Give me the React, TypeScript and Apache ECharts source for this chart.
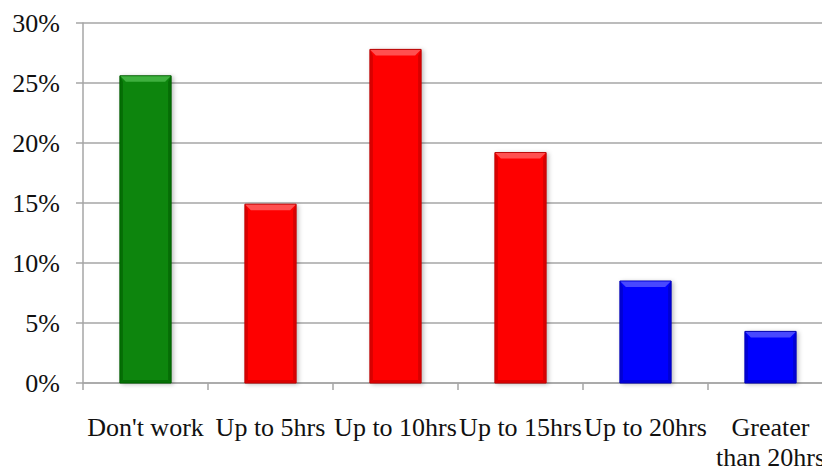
import React, { useEffect, useRef } from "react";
import * as echarts from "echarts";

// Share of respondents by weekly hours worked
const categories = [
  "Don't work",
  "Up to 5hrs",
  "Up to 10hrs",
  "Up to 15hrs",
  "Up to 20hrs",
  "Greater\nthan 20hrs",
];
const shares = [25.6, 14.9, 27.8, 19.2, 8.5, 4.3];
const yTicks = [0, 5, 10, 15, 20, 25, 30];

// Fill / edge / highlight colours for each bar
const barColors = ["#078507", "#fe0000", "#fe0000", "#fe0000", "#0000fe", "#0000fe"];
const edgeColors = ["#005a00", "#b80000", "#b80000", "#b80000", "#0000b0", "#0000b0"];
const lightColors = ["#3fb03f", "#ff5050", "#ff5050", "#ff5050", "#4848ff", "#4848ff"];

const FONT = "'Times New Roman', 'Liberation Serif', serif";

export default function App() {
  const ref = useRef<HTMLDivElement>(null);

  useEffect(() => {
    if (!ref.current) return;
    const chart = echarts.init(ref.current, null, { renderer: "svg" });

    const renderBar = (params: any, api: any) => {
      const idx = api.value(0);
      const val = api.value(1);
      const top = api.coord([idx, val]);
      const base = api.coord([idx, 0]);
      const w = api.size([1, 0])[0] * 0.41;
      const l = top[0] - w / 2;
      const r = top[0] + w / 2;
      const t = top[1];
      const b = base[1];
      const bev = 6;
      const side = 3;
      const i = params.dataIndex;
      return {
        type: "group",
        children: [
          {
            type: "rect",
            shape: { x: l, y: t, width: w, height: b - t },
            style: {
              fill: barColors[i],
              stroke: edgeColors[i],
              lineWidth: 1,
              shadowBlur: 4,
              shadowOffsetX: 2,
              shadowOffsetY: 1,
              shadowColor: "rgba(0,0,0,0.25)",
            },
          },
          {
            type: "polygon",
            shape: {
              points: [
                [l + 0.5, t + 0.5],
                [l + side, t + bev],
                [l + side, b - side],
                [l + 0.5, b - 0.5],
              ],
            },
            style: { fill: edgeColors[i], opacity: 0.55 },
          },
          {
            type: "polygon",
            shape: {
              points: [
                [r - 0.5, t + 0.5],
                [r - side, t + bev],
                [r - side, b - side],
                [r - 0.5, b - 0.5],
              ],
            },
            style: { fill: edgeColors[i], opacity: 0.55 },
          },
          {
            type: "polygon",
            shape: {
              points: [
                [l + 0.5, b - 0.5],
                [l + side, b - side],
                [r - side, b - side],
                [r - 0.5, b - 0.5],
              ],
            },
            style: { fill: edgeColors[i], opacity: 0.5 },
          },
          {
            type: "polygon",
            shape: {
              points: [
                [l + 0.5, t + 0.5],
                [r - 0.5, t + 0.5],
                [r - bev, t + bev],
                [l + bev, t + bev],
              ],
            },
            style: { fill: lightColors[i] },
          },
        ],
      };
    };

    chart.setOption({
      animation: false,
      backgroundColor: "#ffffff",
      grid: {
        left: 83,
        right: -11,
        top: 23,
        bottom: 85,
        containLabel: false,
        outerBoundsMode: "none",
      },
      xAxis: {
        type: "category",
        data: categories,
        boundaryGap: true,
        axisLine: { show: true, lineStyle: { color: "#a6a6a6", width: 1.5 } },
        axisTick: { show: true, length: 7, lineStyle: { color: "#a6a6a6", width: 1.5 } },
        axisLabel: {
          interval: 0,
          margin: 29,
          color: "#111111",
          fontFamily: FONT,
          fontSize: 26,
          lineHeight: 30,
        },
        splitLine: { show: false },
      },
      yAxis: {
        type: "value",
        min: yTicks[0],
        max: yTicks[yTicks.length - 1],
        interval: 5,
        axisLine: { show: true, lineStyle: { color: "#a6a6a6", width: 1.5 } },
        axisTick: { show: true, length: 7, lineStyle: { color: "#a6a6a6", width: 1.5 } },
        axisLabel: {
          margin: 23,
          color: "#111111",
          fontFamily: FONT,
          fontSize: 26,
          formatter: "{value}%",
        },
        splitLine: { show: true, lineStyle: { color: "#a6a6a6", width: 1.5 } },
      },
      series: [
        {
          type: "custom",
          renderItem: renderBar,
          encode: { x: 0, y: 1 },
          data: shares.map((v, i) => [i, v]),
          z: 3,
        },
      ],
    });

    return () => chart.dispose();
  }, []);

  return (
    <div
      ref={ref}
      style={{ position: "absolute", left: 0, top: 0, width: 822, height: 468 }}
    />
  );
}
